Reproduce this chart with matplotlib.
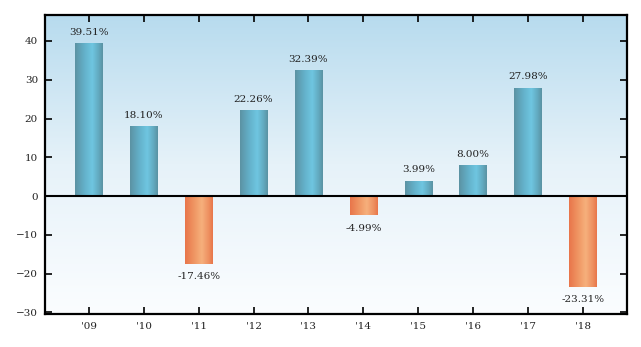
import numpy as np
import matplotlib
matplotlib.use("Agg")
import matplotlib.pyplot as plt
from matplotlib.colors import LinearSegmentedColormap

years = ["'09", "'10", "'11", "'12", "'13", "'14", "'15", "'16", "'17", "'18"]
returns = [39.51, 18.10, -17.46, 22.26, 32.39, -4.99, 3.99, 8.00, 27.98, -23.31]
labels = ["39.51%", "18.10%", "-17.46%", "22.26%", "32.39%", "-4.99%", "3.99%", "8.00%", "27.98%", "-23.31%"]
yticks = [-30, -20, -10, 0, 10, 20, 30, 40]

plt.rcParams['font.family'] = ['DejaVu Serif']

fig = plt.figure(figsize=(6.41, 3.47), dpi=100)
ax = fig.add_axes([0.0702, 0.0951, 0.9078, 0.8617])

x = np.arange(len(years))
ax.set_xlim(-0.8, len(years) - 0.2)
ax.set_ylim(-30.4, 46.7)

# background gradient
bg = LinearSegmentedColormap.from_list("bg", ["#fbfdff", "#e6f2f9", "#b7dbee"])
grad = np.linspace(0, 1, 256).reshape(-1, 1)
ax.imshow(grad, aspect='auto', cmap=bg, origin='lower',
          extent=[0, 1, 0, 1], transform=ax.transAxes, zorder=0)

blue_cm = LinearSegmentedColormap.from_list(
    "bl", [(0, "#5b92a3"), (0.35, "#64b2cb"), (0.62, "#6fc6e1"), (0.85, "#62a9bf"), (1, "#5a92a2")])
orange_cm = LinearSegmentedColormap.from_list(
    "or", [(0, "#e8754a"), (0.35, "#f09865"), (0.6, "#f6b07c"), (0.85, "#ee9060"), (1, "#e8764a")])
hgrad = np.linspace(0, 1, 256).reshape(1, -1)

bars = ax.bar(x, returns, width=0.5, color='none', edgecolor='none', zorder=2)
for b, v in zip(bars, returns):
    x0, y0 = b.get_x(), b.get_y()
    w, h = b.get_width(), b.get_height()
    cm = blue_cm if v >= 0 else orange_cm
    im = ax.imshow(hgrad, aspect='auto', cmap=cm,
                   extent=[x0, x0 + w, min(y0, y0 + h), max(y0, y0 + h)], zorder=2)
    im.set_clip_path(b)

for xi, v, lab in zip(x, returns, labels):
    if v >= 0:
        ax.text(xi, v + 1.6, lab, ha='center', va='bottom', fontsize=7.5, color='#222222', zorder=4)
    else:
        ax.text(xi, v - 2.1, lab, ha='center', va='top', fontsize=7.5, color='#222222', zorder=4)

ax.axhline(0, color='black', linewidth=1.5, zorder=3)

ax.set_xticks(x)
ax.set_xticklabels(years)
ax.set_yticks(yticks)
ax.tick_params(axis='both', direction='in', length=5, width=1.2, labelsize=7.5,
               top=True, right=True, colors='black', labelcolor='#222222', pad=5)
ax.tick_params(axis='x', pad=6)
for s in ax.spines.values():
    s.set_linewidth(1.6)
    s.set_color('black')
    s.set_zorder(5)

fig.savefig("out.png", dpi=100)
